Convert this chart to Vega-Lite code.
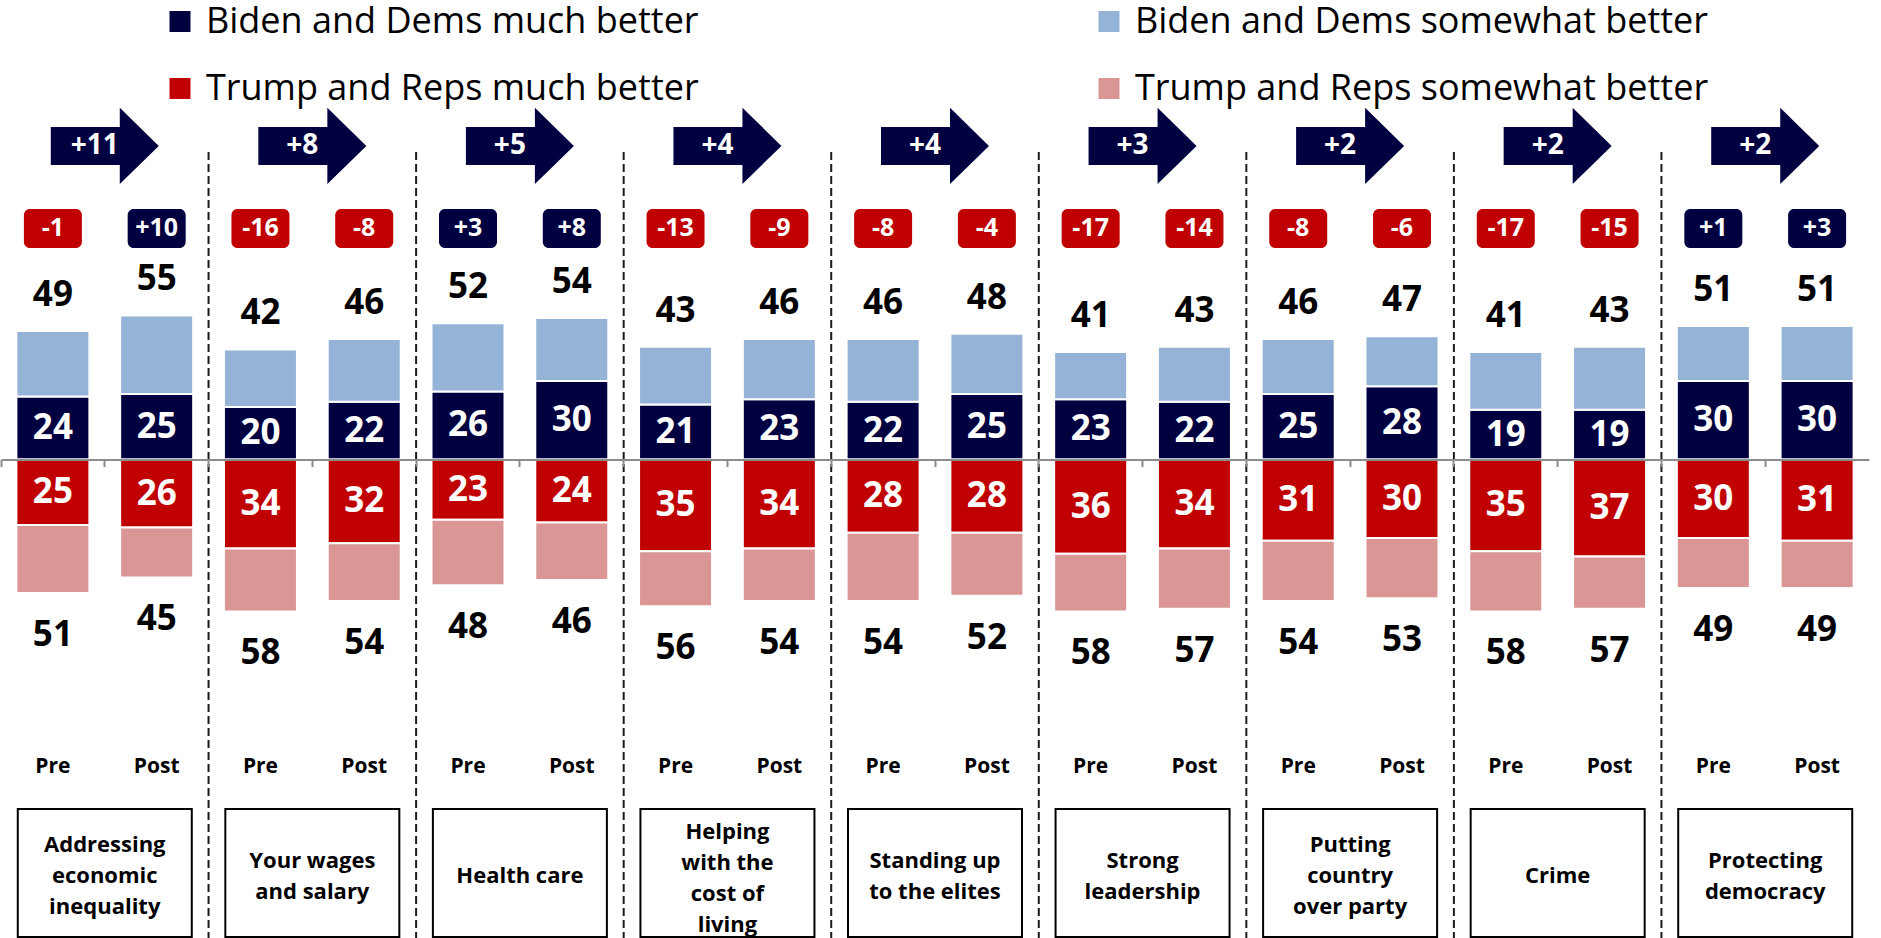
{
  "$schema": "https://vega.github.io/schema/vega-lite/v6.json",
  "width": 1868,
  "height": 938,
  "autosize": {"type": "none"},
  "padding": {"left": 1, "top": 0, "right": 12, "bottom": 0},
  "background": "white",
  "config": {
    "view": {"stroke": null},
    "font": "Open Sans",
    "locale": {"number": {"decimal": ".", "thousands": ",", "grouping": [3], "currency": ["$", ""], "minus": "-"}}
  },
  "datasets": {
    "bars": [
      {"key": "1 Pre", "wave": "Pre", "Biden and Dems much better": 24, "Biden and Dems somewhat better": 25, "Trump and Reps much better": 25, "Trump and Reps somewhat better": 26, "dt": 49, "rt": 51, "net": -1},
      {"key": "1 Post", "wave": "Post", "Biden and Dems much better": 25, "Biden and Dems somewhat better": 30, "Trump and Reps much better": 26, "Trump and Reps somewhat better": 19, "dt": 55, "rt": 45, "net": 10},
      {"key": "2 Pre", "wave": "Pre", "Biden and Dems much better": 20, "Biden and Dems somewhat better": 22, "Trump and Reps much better": 34, "Trump and Reps somewhat better": 24, "dt": 42, "rt": 58, "net": -16},
      {"key": "2 Post", "wave": "Post", "Biden and Dems much better": 22, "Biden and Dems somewhat better": 24, "Trump and Reps much better": 32, "Trump and Reps somewhat better": 22, "dt": 46, "rt": 54, "net": -8},
      {"key": "3 Pre", "wave": "Pre", "Biden and Dems much better": 26, "Biden and Dems somewhat better": 26, "Trump and Reps much better": 23, "Trump and Reps somewhat better": 25, "dt": 52, "rt": 48, "net": 3},
      {"key": "3 Post", "wave": "Post", "Biden and Dems much better": 30, "Biden and Dems somewhat better": 24, "Trump and Reps much better": 24, "Trump and Reps somewhat better": 22, "dt": 54, "rt": 46, "net": 8},
      {"key": "4 Pre", "wave": "Pre", "Biden and Dems much better": 21, "Biden and Dems somewhat better": 22, "Trump and Reps much better": 35, "Trump and Reps somewhat better": 21, "dt": 43, "rt": 56, "net": -13},
      {"key": "4 Post", "wave": "Post", "Biden and Dems much better": 23, "Biden and Dems somewhat better": 23, "Trump and Reps much better": 34, "Trump and Reps somewhat better": 20, "dt": 46, "rt": 54, "net": -9},
      {"key": "5 Pre", "wave": "Pre", "Biden and Dems much better": 22, "Biden and Dems somewhat better": 24, "Trump and Reps much better": 28, "Trump and Reps somewhat better": 26, "dt": 46, "rt": 54, "net": -8},
      {"key": "5 Post", "wave": "Post", "Biden and Dems much better": 25, "Biden and Dems somewhat better": 23, "Trump and Reps much better": 28, "Trump and Reps somewhat better": 24, "dt": 48, "rt": 52, "net": -4},
      {"key": "6 Pre", "wave": "Pre", "Biden and Dems much better": 23, "Biden and Dems somewhat better": 18, "Trump and Reps much better": 36, "Trump and Reps somewhat better": 22, "dt": 41, "rt": 58, "net": -17},
      {"key": "6 Post", "wave": "Post", "Biden and Dems much better": 22, "Biden and Dems somewhat better": 21, "Trump and Reps much better": 34, "Trump and Reps somewhat better": 23, "dt": 43, "rt": 57, "net": -14},
      {"key": "7 Pre", "wave": "Pre", "Biden and Dems much better": 25, "Biden and Dems somewhat better": 21, "Trump and Reps much better": 31, "Trump and Reps somewhat better": 23, "dt": 46, "rt": 54, "net": -8},
      {"key": "7 Post", "wave": "Post", "Biden and Dems much better": 28, "Biden and Dems somewhat better": 19, "Trump and Reps much better": 30, "Trump and Reps somewhat better": 23, "dt": 47, "rt": 53, "net": -6},
      {"key": "8 Pre", "wave": "Pre", "Biden and Dems much better": 19, "Biden and Dems somewhat better": 22, "Trump and Reps much better": 35, "Trump and Reps somewhat better": 23, "dt": 41, "rt": 58, "net": -17},
      {"key": "8 Post", "wave": "Post", "Biden and Dems much better": 19, "Biden and Dems somewhat better": 24, "Trump and Reps much better": 37, "Trump and Reps somewhat better": 20, "dt": 43, "rt": 57, "net": -15},
      {"key": "9 Pre", "wave": "Pre", "Biden and Dems much better": 30, "Biden and Dems somewhat better": 21, "Trump and Reps much better": 30, "Trump and Reps somewhat better": 19, "dt": 51, "rt": 49, "net": 1},
      {"key": "9 Post", "wave": "Post", "Biden and Dems much better": 30, "Biden and Dems somewhat better": 21, "Trump and Reps much better": 31, "Trump and Reps somewhat better": 18, "dt": 51, "rt": 49, "net": 3}
    ],
    "cats": [
      {"key": "1 Post", "sepkey": "1 Post", "chg": 11, "label": ["Addressing", "economic", "inequality"]},
      {"key": "2 Post", "sepkey": "2 Post", "chg": 8, "label": ["Your wages", "and salary"]},
      {"key": "3 Post", "sepkey": "3 Post", "chg": 5, "label": ["Health care"]},
      {"key": "4 Post", "sepkey": "4 Post", "chg": 4, "label": ["Helping", "with the", "cost of", "living"]},
      {"key": "5 Post", "sepkey": "5 Post", "chg": 4, "label": ["Standing up", "to the elites"]},
      {"key": "6 Post", "sepkey": "6 Post", "chg": 3, "label": ["Strong", "leadership"]},
      {"key": "7 Post", "sepkey": "7 Post", "chg": 2, "label": ["Putting", "country", "over party"]},
      {"key": "8 Post", "sepkey": "8 Post", "chg": 2, "label": ["Crime"]},
      {"key": "9 Post", "chg": 2, "label": ["Protecting", "democracy"]}
    ]
  },
  "resolve": {"scale": {"y": "independent"}},
  "layer": [
    {
      "data": {"name": "bars"},
      "transform": [{"fold": ["Biden and Dems much better", "Biden and Dems somewhat better"], "as": ["seg", "v"]}],
      "mark": {"type": "bar", "width": 73, "stroke": "white", "strokeWidth": 2},
      "encoding": {
        "x": {"field": "key", "type": "nominal", "title": null, "scale": {"type": "band", "domain": ["1 Pre","1 Post","2 Pre","2 Post","3 Pre","3 Post","4 Pre","4 Post","5 Pre","5 Post","6 Pre","6 Post","7 Pre","7 Post","8 Pre","8 Post","9 Pre","9 Post"], "paddingInner": 0, "paddingOuter": 0},
          "axis": {"orient": "bottom", "offset": -478.5, "labels": false, "title": null, "domainColor": "#8c8c8c", "domainWidth": 2, "tickColor": "#8c8c8c", "tickWidth": 2, "tickSize": 7, "bandPosition": 0, "zindex": 1}},
        "y": {"field": "v", "type": "quantitative", "stack": "zero", "scale": {"domain": [-182.63, 175.38], "nice": false}, "axis": null},
        "order": {"field": "seg", "type": "ordinal", "sort": "ascending"},
        "color": {"field": "seg", "type": "nominal",
          "scale": {"domain": ["Biden and Dems much better", "Biden and Dems somewhat better", "Trump and Reps much better", "Trump and Reps somewhat better"], "range": ["#000040", "#95b3d7", "#c00000", "#d99694"]},
          "legend": {"orient": "none", "legendX": 161, "legendY": 3.5, "direction": "horizontal", "columns": 2, "columnPadding": 392, "rowPadding": 31, "labelFont": "Open Sans", "labelFontSize": 36, "labelColor": "black", "labelLimit": 800, "labelOffset": 8, "symbolType": "square", "symbolSize": 441, "symbolStrokeWidth": 0, "symbolOpacity": 1, "title": null, "padding": 0}}
      }
    },
    {
      "data": {"name": "bars"},
      "transform": [{"fold": ["Trump and Reps much better", "Trump and Reps somewhat better"], "as": ["seg", "v"]}],
      "mark": {"type": "bar", "width": 73, "stroke": "white", "strokeWidth": 2},
      "encoding": {
        "x": {"field": "key", "type": "nominal", "title": null, "scale": {"type": "band", "domain": ["1 Pre","1 Post","2 Pre","2 Post","3 Pre","3 Post","4 Pre","4 Post","5 Pre","5 Post","6 Pre","6 Post","7 Pre","7 Post","8 Pre","8 Post","9 Pre","9 Post"], "paddingInner": 0, "paddingOuter": 0},
          "axis": {"orient": "bottom", "offset": -478.5, "labels": false, "title": null, "domainColor": "#8c8c8c", "domainWidth": 2, "tickColor": "#8c8c8c", "tickWidth": 2, "tickSize": 7, "bandPosition": 0, "zindex": 1}},
        "y": {"field": "v", "type": "quantitative", "stack": "zero", "scale": {"domain": [-175.38, 182.63], "reverse": true, "nice": false}, "axis": null},
        "order": {"field": "seg", "type": "ordinal", "sort": "ascending"},
        "color": {"field": "seg", "type": "nominal",
          "scale": {"domain": ["Biden and Dems much better", "Biden and Dems somewhat better", "Trump and Reps much better", "Trump and Reps somewhat better"], "range": ["#000040", "#95b3d7", "#c00000", "#d99694"]},
          "legend": {"orient": "none", "legendX": 161, "legendY": 3.5, "direction": "horizontal", "columns": 2, "columnPadding": 392, "rowPadding": 31, "labelFont": "Open Sans", "labelFontSize": 36, "labelColor": "black", "labelLimit": 800, "labelOffset": 8, "symbolType": "square", "symbolSize": 441, "symbolStrokeWidth": 0, "symbolOpacity": 1, "title": null, "padding": 0}}
      }
    },
    {
      "data": {"name": "bars"},
      "mark": {"type": "text", "font": "Open Sans", "fontWeight": "bold", "fontSize": 35, "color": "white", "baseline": "middle"},
      "encoding": {
        "x": {"field": "key", "type": "nominal", "title": null, "scale": {"type": "band", "domain": ["1 Pre","1 Post","2 Pre","2 Post","3 Pre","3 Post","4 Pre","4 Post","5 Pre","5 Post","6 Pre","6 Post","7 Pre","7 Post","8 Pre","8 Post","9 Pre","9 Post"], "paddingInner": 0, "paddingOuter": 0},
          "axis": {"orient": "bottom", "offset": -478.5, "labels": false, "title": null, "domainColor": "#8c8c8c", "domainWidth": 2, "tickColor": "#8c8c8c", "tickWidth": 2, "tickSize": 7, "bandPosition": 0, "zindex": 1}},
        "y": {"field": "Biden and Dems much better", "type": "quantitative", "scale": {"domain": [-365.26, 350.76], "nice": false}, "axis": null},
        "text": {"field": "Biden and Dems much better", "type": "quantitative"}
      }
    },
    {
      "data": {"name": "bars"},
      "mark": {"type": "text", "font": "Open Sans", "fontWeight": "bold", "fontSize": 35, "color": "white", "baseline": "middle"},
      "encoding": {
        "x": {"field": "key", "type": "nominal", "title": null, "scale": {"type": "band", "domain": ["1 Pre","1 Post","2 Pre","2 Post","3 Pre","3 Post","4 Pre","4 Post","5 Pre","5 Post","6 Pre","6 Post","7 Pre","7 Post","8 Pre","8 Post","9 Pre","9 Post"], "paddingInner": 0, "paddingOuter": 0},
          "axis": {"orient": "bottom", "offset": -478.5, "labels": false, "title": null, "domainColor": "#8c8c8c", "domainWidth": 2, "tickColor": "#8c8c8c", "tickWidth": 2, "tickSize": 7, "bandPosition": 0, "zindex": 1}},
        "y": {"field": "Trump and Reps much better", "type": "quantitative", "scale": {"domain": [-350.76, 365.26], "reverse": true, "nice": false}, "axis": null},
        "text": {"field": "Trump and Reps much better", "type": "quantitative"}
      }
    },
    {
      "data": {"name": "bars"},
      "mark": {"type": "text", "font": "Open Sans", "fontWeight": "bold", "fontSize": 35, "color": "black", "baseline": "alphabetic", "dy": -25},
      "encoding": {
        "x": {"field": "key", "type": "nominal", "title": null, "scale": {"type": "band", "domain": ["1 Pre","1 Post","2 Pre","2 Post","3 Pre","3 Post","4 Pre","4 Post","5 Pre","5 Post","6 Pre","6 Post","7 Pre","7 Post","8 Pre","8 Post","9 Pre","9 Post"], "paddingInner": 0, "paddingOuter": 0},
          "axis": {"orient": "bottom", "offset": -478.5, "labels": false, "title": null, "domainColor": "#8c8c8c", "domainWidth": 2, "tickColor": "#8c8c8c", "tickWidth": 2, "tickSize": 7, "bandPosition": 0, "zindex": 1}},
        "y": {"field": "dt", "type": "quantitative", "scale": {"domain": [-182.63, 175.38], "nice": false}, "axis": null},
        "text": {"field": "dt", "type": "quantitative"}
      }
    },
    {
      "data": {"name": "bars"},
      "mark": {"type": "text", "font": "Open Sans", "fontWeight": "bold", "fontSize": 35, "color": "black", "baseline": "alphabetic", "dy": 53},
      "encoding": {
        "x": {"field": "key", "type": "nominal", "title": null, "scale": {"type": "band", "domain": ["1 Pre","1 Post","2 Pre","2 Post","3 Pre","3 Post","4 Pre","4 Post","5 Pre","5 Post","6 Pre","6 Post","7 Pre","7 Post","8 Pre","8 Post","9 Pre","9 Post"], "paddingInner": 0, "paddingOuter": 0},
          "axis": {"orient": "bottom", "offset": -478.5, "labels": false, "title": null, "domainColor": "#8c8c8c", "domainWidth": 2, "tickColor": "#8c8c8c", "tickWidth": 2, "tickSize": 7, "bandPosition": 0, "zindex": 1}},
        "y": {"field": "rt", "type": "quantitative", "scale": {"domain": [-175.38, 182.63], "reverse": true, "nice": false}, "axis": null},
        "text": {"field": "rt", "type": "quantitative"}
      }
    },
    {
      "data": {"name": "bars"},
      "mark": {"type": "bar", "width": 58, "cornerRadius": 6},
      "encoding": {
        "x": {"field": "key", "type": "nominal", "title": null, "scale": {"type": "band", "domain": ["1 Pre","1 Post","2 Pre","2 Post","3 Pre","3 Post","4 Pre","4 Post","5 Pre","5 Post","6 Pre","6 Post","7 Pre","7 Post","8 Pre","8 Post","9 Pre","9 Post"], "paddingInner": 0, "paddingOuter": 0},
          "axis": {"orient": "bottom", "offset": -478.5, "labels": false, "title": null, "domainColor": "#8c8c8c", "domainWidth": 2, "tickColor": "#8c8c8c", "tickWidth": 2, "tickSize": 7, "bandPosition": 0, "zindex": 1}},
        "y": {"datum": 95.6, "type": "quantitative", "scale": {"domain": [-182.63, 175.38], "nice": false}, "axis": null},
        "y2": {"datum": 80.7},
        "color": {"condition": {"test": "datum.net > 0", "value": "#000040"}, "value": "#c00000"}
      }
    },
    {
      "data": {"name": "bars"},
      "mark": {"type": "text", "font": "Open Sans", "fontWeight": "bold", "fontSize": 25, "color": "white", "baseline": "middle"},
      "encoding": {
        "x": {"field": "key", "type": "nominal", "title": null, "scale": {"type": "band", "domain": ["1 Pre","1 Post","2 Pre","2 Post","3 Pre","3 Post","4 Pre","4 Post","5 Pre","5 Post","6 Pre","6 Post","7 Pre","7 Post","8 Pre","8 Post","9 Pre","9 Post"], "paddingInner": 0, "paddingOuter": 0},
          "axis": {"orient": "bottom", "offset": -478.5, "labels": false, "title": null, "domainColor": "#8c8c8c", "domainWidth": 2, "tickColor": "#8c8c8c", "tickWidth": 2, "tickSize": 7, "bandPosition": 0, "zindex": 1}},
        "y": {"datum": 88.2, "type": "quantitative", "scale": {"domain": [-182.63, 175.38], "nice": false}, "axis": null},
        "text": {"field": "net", "type": "quantitative", "format": "+d"}
      }
    },
    {
      "data": {"name": "bars"},
      "mark": {"type": "text", "font": "Open Sans", "fontWeight": "bold", "fontSize": 21, "color": "black", "baseline": "alphabetic"},
      "encoding": {
        "x": {"field": "key", "type": "nominal", "title": null, "scale": {"type": "band", "domain": ["1 Pre","1 Post","2 Pre","2 Post","3 Pre","3 Post","4 Pre","4 Post","5 Pre","5 Post","6 Pre","6 Post","7 Pre","7 Post","8 Pre","8 Post","9 Pre","9 Post"], "paddingInner": 0, "paddingOuter": 0},
          "axis": {"orient": "bottom", "offset": -478.5, "labels": false, "title": null, "domainColor": "#8c8c8c", "domainWidth": 2, "tickColor": "#8c8c8c", "tickWidth": 2, "tickSize": 7, "bandPosition": 0, "zindex": 1}},
        "y": {"datum": -119.5, "type": "quantitative", "scale": {"domain": [-182.63, 175.38], "nice": false}, "axis": null},
        "text": {"field": "wave", "type": "nominal"}
      }
    },
    {
      "data": {"name": "cats"},
      "transform": [{"filter": "isValid(datum.sepkey)"}],
      "mark": {"type": "rule", "color": "#1e1a18", "strokeWidth": 2, "strokeDash": [8, 4]},
      "encoding": {
        "x": {"field": "sepkey", "type": "nominal", "title": null, "bandPosition": 1, "scale": {"type": "band", "domain": ["1 Pre","1 Post","2 Pre","2 Post","3 Pre","3 Post","4 Pre","4 Post","5 Pre","5 Post","6 Pre","6 Post","7 Pre","7 Post","8 Pre","8 Post","9 Pre","9 Post"], "paddingInner": 0, "paddingOuter": 0},
          "axis": {"orient": "bottom", "offset": -478.5, "labels": false, "title": null, "domainColor": "#8c8c8c", "domainWidth": 2, "tickColor": "#8c8c8c", "tickWidth": 2, "tickSize": 7, "bandPosition": 0, "zindex": 1}},
        "y": {"datum": 117.4, "type": "quantitative", "scale": {"domain": [-182.63, 175.38], "nice": false}, "axis": null},
        "y2": {"datum": -182.6}
      }
    },
    {
      "data": {"name": "cats"},
      "mark": {"type": "point", "shape": "M-1,-0.352H0.278V-0.704L1,0L0.278,0.704V0.352H-1Z", "size": 11664, "filled": true, "color": "#000040", "opacity": 1, "strokeWidth": 0},
      "encoding": {
        "x": {"field": "key", "type": "nominal", "title": null, "bandPosition": 0, "scale": {"type": "band", "domain": ["1 Pre","1 Post","2 Pre","2 Post","3 Pre","3 Post","4 Pre","4 Post","5 Pre","5 Post","6 Pre","6 Post","7 Pre","7 Post","8 Pre","8 Post","9 Pre","9 Post"], "paddingInner": 0, "paddingOuter": 0},
          "axis": {"orient": "bottom", "offset": -478.5, "labels": false, "title": null, "domainColor": "#8c8c8c", "domainWidth": 2, "tickColor": "#8c8c8c", "tickWidth": 2, "tickSize": 7, "bandPosition": 0, "zindex": 1}},
        "y": {"datum": 119.7, "type": "quantitative", "scale": {"domain": [-182.63, 175.38], "nice": false}, "axis": null}
      }
    },
    {
      "data": {"name": "cats"},
      "mark": {"type": "text", "font": "Open Sans", "fontWeight": "bold", "fontSize": 28, "color": "white", "baseline": "middle", "dx": -10},
      "encoding": {
        "x": {"field": "key", "type": "nominal", "title": null, "bandPosition": 0, "scale": {"type": "band", "domain": ["1 Pre","1 Post","2 Pre","2 Post","3 Pre","3 Post","4 Pre","4 Post","5 Pre","5 Post","6 Pre","6 Post","7 Pre","7 Post","8 Pre","8 Post","9 Pre","9 Post"], "paddingInner": 0, "paddingOuter": 0},
          "axis": {"orient": "bottom", "offset": -478.5, "labels": false, "title": null, "domainColor": "#8c8c8c", "domainWidth": 2, "tickColor": "#8c8c8c", "tickWidth": 2, "tickSize": 7, "bandPosition": 0, "zindex": 1}},
        "y": {"datum": 119.7, "type": "quantitative", "scale": {"domain": [-182.63, 175.38], "nice": false}, "axis": null},
        "text": {"field": "chg", "type": "quantitative", "format": "+d"}
      }
    },
    {
      "data": {"name": "cats"},
      "mark": {"type": "point", "shape": "M-1,-0.7356H1V0.7356H-1Z", "size": 30276, "filled": true, "fill": "white", "stroke": "black", "strokeWidth": 2, "opacity": 1},
      "encoding": {
        "x": {"field": "key", "type": "nominal", "title": null, "bandPosition": 0, "scale": {"type": "band", "domain": ["1 Pre","1 Post","2 Pre","2 Post","3 Pre","3 Post","4 Pre","4 Post","5 Pre","5 Post","6 Pre","6 Post","7 Pre","7 Post","8 Pre","8 Post","9 Pre","9 Post"], "paddingInner": 0, "paddingOuter": 0},
          "axis": {"orient": "bottom", "offset": -478.5, "labels": false, "title": null, "domainColor": "#8c8c8c", "domainWidth": 2, "tickColor": "#8c8c8c", "tickWidth": 2, "tickSize": 7, "bandPosition": 0, "zindex": 1}},
        "y": {"datum": -157.8, "type": "quantitative", "scale": {"domain": [-182.63, 175.38], "nice": false}, "axis": null}
      }
    },
    {
      "data": {"name": "cats"},
      "transform": [{"filter": "length(datum.label) == 1"}],
      "mark": {"type": "text", "font": "Open Sans", "fontWeight": "bold", "fontSize": 22, "color": "black", "baseline": "middle", "lineHeight": 31},
      "encoding": {
        "x": {"field": "key", "type": "nominal", "title": null, "bandPosition": 0, "scale": {"type": "band", "domain": ["1 Pre","1 Post","2 Pre","2 Post","3 Pre","3 Post","4 Pre","4 Post","5 Pre","5 Post","6 Pre","6 Post","7 Pre","7 Post","8 Pre","8 Post","9 Pre","9 Post"], "paddingInner": 0, "paddingOuter": 0},
          "axis": {"orient": "bottom", "offset": -478.5, "labels": false, "title": null, "domainColor": "#8c8c8c", "domainWidth": 2, "tickColor": "#8c8c8c", "tickWidth": 2, "tickSize": 7, "bandPosition": 0, "zindex": 1}},
        "y": {"datum": -159, "type": "quantitative", "scale": {"domain": [-182.63, 175.38], "nice": false}, "axis": null},
        "text": {"field": "label", "type": "nominal"}
      }
    },
    {
      "data": {"name": "cats"},
      "transform": [{"filter": "length(datum.label) == 2"}],
      "mark": {"type": "text", "font": "Open Sans", "fontWeight": "bold", "fontSize": 22, "color": "black", "baseline": "middle", "lineHeight": 31, "dy": -15.5},
      "encoding": {
        "x": {"field": "key", "type": "nominal", "title": null, "bandPosition": 0, "scale": {"type": "band", "domain": ["1 Pre","1 Post","2 Pre","2 Post","3 Pre","3 Post","4 Pre","4 Post","5 Pre","5 Post","6 Pre","6 Post","7 Pre","7 Post","8 Pre","8 Post","9 Pre","9 Post"], "paddingInner": 0, "paddingOuter": 0},
          "axis": {"orient": "bottom", "offset": -478.5, "labels": false, "title": null, "domainColor": "#8c8c8c", "domainWidth": 2, "tickColor": "#8c8c8c", "tickWidth": 2, "tickSize": 7, "bandPosition": 0, "zindex": 1}},
        "y": {"datum": -159, "type": "quantitative", "scale": {"domain": [-182.63, 175.38], "nice": false}, "axis": null},
        "text": {"field": "label", "type": "nominal"}
      }
    },
    {
      "data": {"name": "cats"},
      "transform": [{"filter": "length(datum.label) == 3"}],
      "mark": {"type": "text", "font": "Open Sans", "fontWeight": "bold", "fontSize": 22, "color": "black", "baseline": "middle", "lineHeight": 31, "dy": -31},
      "encoding": {
        "x": {"field": "key", "type": "nominal", "title": null, "bandPosition": 0, "scale": {"type": "band", "domain": ["1 Pre","1 Post","2 Pre","2 Post","3 Pre","3 Post","4 Pre","4 Post","5 Pre","5 Post","6 Pre","6 Post","7 Pre","7 Post","8 Pre","8 Post","9 Pre","9 Post"], "paddingInner": 0, "paddingOuter": 0},
          "axis": {"orient": "bottom", "offset": -478.5, "labels": false, "title": null, "domainColor": "#8c8c8c", "domainWidth": 2, "tickColor": "#8c8c8c", "tickWidth": 2, "tickSize": 7, "bandPosition": 0, "zindex": 1}},
        "y": {"datum": -159, "type": "quantitative", "scale": {"domain": [-182.63, 175.38], "nice": false}, "axis": null},
        "text": {"field": "label", "type": "nominal"}
      }
    },
    {
      "data": {"name": "cats"},
      "transform": [{"filter": "length(datum.label) == 4"}],
      "mark": {"type": "text", "font": "Open Sans", "fontWeight": "bold", "fontSize": 22, "color": "black", "baseline": "middle", "lineHeight": 31, "dy": -44},
      "encoding": {
        "x": {"field": "key", "type": "nominal", "title": null, "bandPosition": 0, "scale": {"type": "band", "domain": ["1 Pre","1 Post","2 Pre","2 Post","3 Pre","3 Post","4 Pre","4 Post","5 Pre","5 Post","6 Pre","6 Post","7 Pre","7 Post","8 Pre","8 Post","9 Pre","9 Post"], "paddingInner": 0, "paddingOuter": 0},
          "axis": {"orient": "bottom", "offset": -478.5, "labels": false, "title": null, "domainColor": "#8c8c8c", "domainWidth": 2, "tickColor": "#8c8c8c", "tickWidth": 2, "tickSize": 7, "bandPosition": 0, "zindex": 1}},
        "y": {"datum": -159, "type": "quantitative", "scale": {"domain": [-182.63, 175.38], "nice": false}, "axis": null},
        "text": {"field": "label", "type": "nominal"}
      }
    }
  ]
}
